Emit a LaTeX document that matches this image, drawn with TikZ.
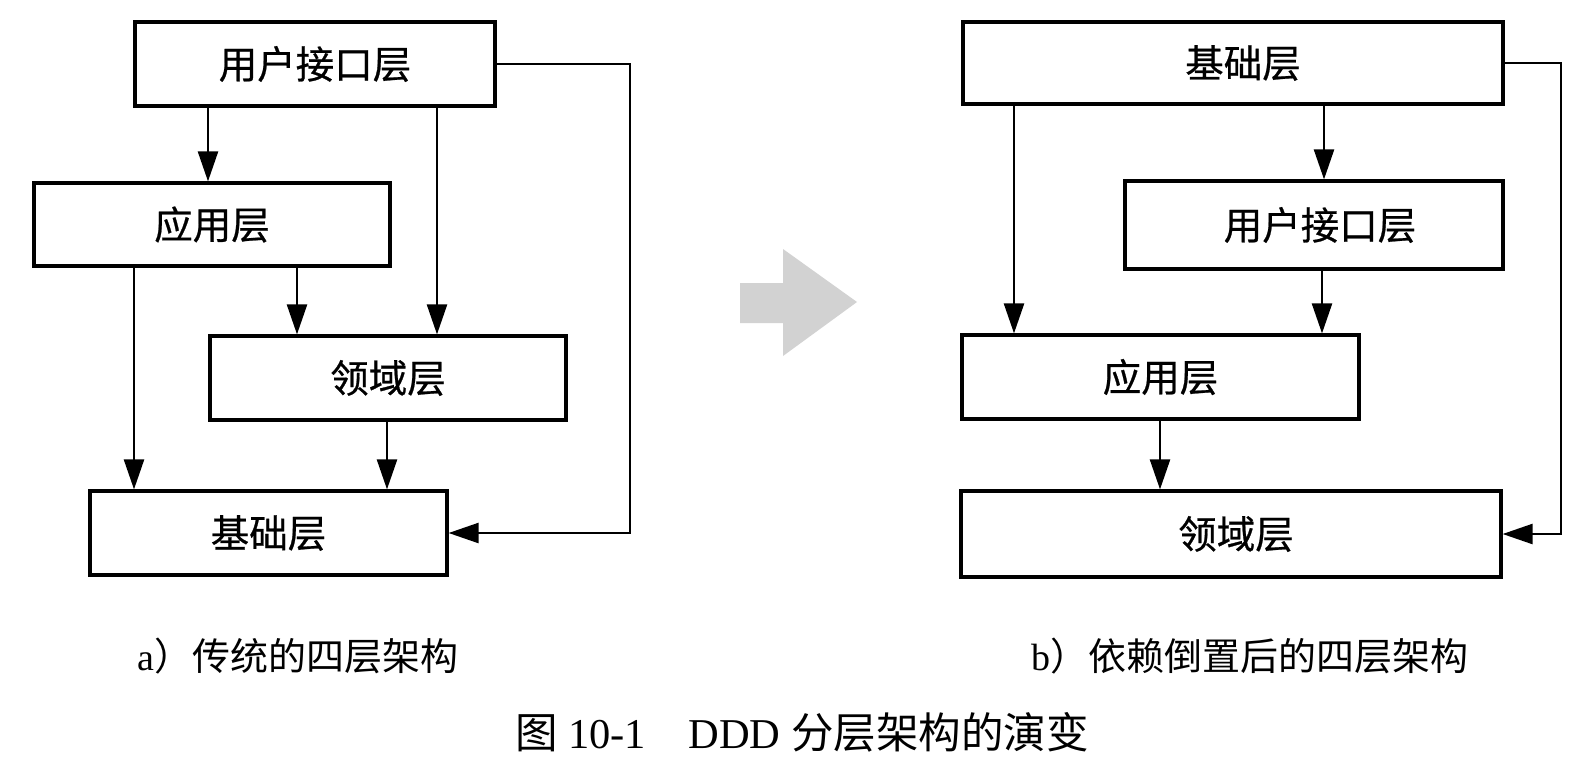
\documentclass[tikz,border=0pt]{standalone}
\usepackage{fontspec}
\setmainfont{Liberation Serif}
\newfontfamily\cjk[FakeBold=0.6]{Noto Sans CJK SC}
\newfontfamily\cjkcap{Noto Sans CJK SC}
\usetikzlibrary{arrows.meta}
\begin{document}
\begin{tikzpicture}[x=1pt,y=-1pt,
  layer/.style={draw, line width=3.2pt, inner sep=0pt, font=\cjk\fontsize{38.5}{42}\selectfont},
  conn/.style={line width=2.4pt, -{Triangle[length=30pt,width=20pt]}},
  captext/.style={inner sep=0pt, font=\fontsize{38}{42}\selectfont}]
\useasboundingbox (0,0) rectangle (1594,764);
% left panel
\node[layer, minimum width=360pt, minimum height=84pt] (ui)  at (315,64)    {用户接口层};
\node[layer, minimum width=356pt, minimum height=83pt] (app) at (212,224.5) {应用层};
\node[layer, minimum width=356pt, minimum height=84pt] (dom) at (388,378)   {领域层};
\node[layer, minimum width=357pt, minimum height=84pt] (inf) at (268.5,533) {基础层};
\coordinate (la1) at (208,0);
\coordinate (la2) at (437,0);
\coordinate (la3) at (297,0);
\coordinate (la4) at (134,0);
\coordinate (la5) at (387,0);
\coordinate (lfb) at (630,0);
\draw[conn] (la1 |- ui.south) -- (la1 |- app.north);
\draw[conn] (la2 |- ui.south) -- (la2 |- dom.north);
\draw[conn] (la3 |- app.south) -- (la3 |- dom.north);
\draw[conn] (la4 |- app.south) -- (la4 |- inf.north);
\draw[conn] (la5 |- dom.south) -- (la5 |- inf.north);
\draw[conn] (ui.east) -- (lfb |- ui.east) |- (inf.east);
% middle gray arrow
\fill[gray!35] (740,283) -- (783,283) -- (783,249) -- (857,302) -- (783,356) -- (783,323) -- (740,323) -- cycle;
% right panel
\node[layer, minimum width=540pt, minimum height=82pt, text width=540pt, align=center] (rinf) at (1233,63) {\hspace*{20pt}基础层};
\node[layer, minimum width=378pt, minimum height=88pt, text width=378pt, align=center] (rui)  at (1314,225) {\hspace*{12pt}用户接口层};
\node[layer, minimum width=397pt, minimum height=84pt] (rapp) at (1160.5,377) {应用层};
\node[layer, minimum width=540pt, minimum height=86pt, text width=540pt, align=center] (rdom) at (1231,534) {\hspace*{10pt}领域层};
\coordinate (rb1) at (1014,0);
\coordinate (rb2) at (1324,0);
\coordinate (rb3) at (1322,0);
\coordinate (rb4) at (1160,0);
\coordinate (rfb) at (1561,0);
\draw[conn] (rb1 |- rinf.south) -- (rb1 |- rapp.north);
\draw[conn] (rb2 |- rinf.south) -- (rb2 |- rui.north);
\draw[conn] (rb3 |- rui.south) -- (rb3 |- rapp.north);
\draw[conn] (rb4 |- rapp.south) -- (rb4 |- rdom.north);
\draw[conn] (rinf.east) -- (rfb |- rinf.east) |- (rdom.east);
% captions
\node[captext] (capa) at (298,656) {a{\cjkcap ）传统的四层架构}};
\node[captext] (capb) at (1250,656) {b{\cjkcap ）依赖倒置后的四层架构}};
\node[captext, font=\fontsize{42.5}{46}\selectfont] (title) at (802,732) {{\cjkcap 图} 10-1\quad DDD {\cjkcap 分层架构的演变}};
\end{tikzpicture}
\end{document}
